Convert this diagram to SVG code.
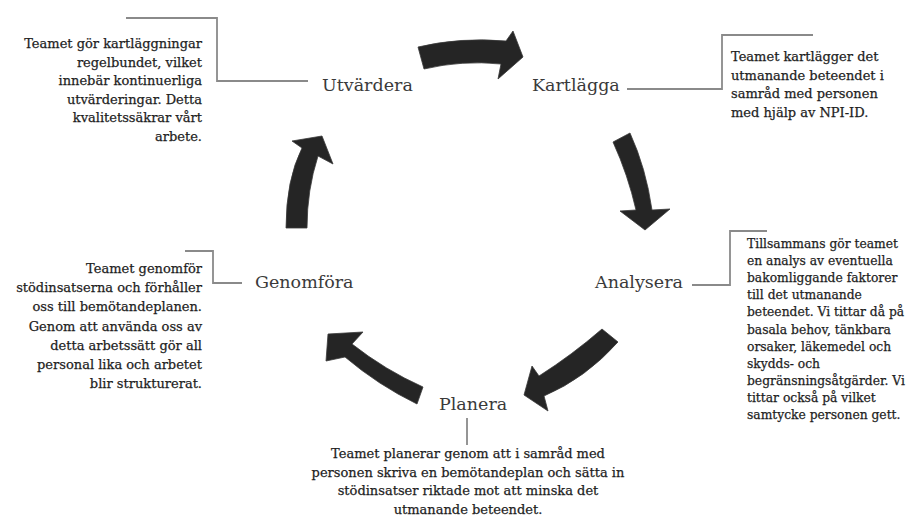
<svg xmlns="http://www.w3.org/2000/svg" width="917" height="524" viewBox="0 0 917 524">
<style>
.lbl{font-family:"DejaVu Serif","Liberation Serif",serif;font-size:17.5px;fill:#3a3a3a}
.txt{font-family:"DejaVu Serif","Liberation Serif",serif;font-size:13px;fill:#1e1e1e;stroke:#1e1e1e;stroke-width:0.25}
.sm{font-size:12.3px}
.r{text-anchor:end}
.c{text-anchor:middle}
.lead{fill:none;stroke:#8a8a8a;stroke-width:1.8}
.arr{fill:#252525;stroke:#3a3a3a;stroke-width:0.8;stroke-linejoin:round}
</style>
<rect width="917" height="524" fill="#ffffff"/>
<g id="connectors">
  <path class="lead" d="M126,18 H217 V81 H308"/>
  <path class="lead" d="M627,89 H722 V35 H813"/>
  <path class="lead" d="M692,285 H730 V231 H767"/>
  <path class="lead" d="M185,251 H213 V283 H242"/>
  <path class="lead" d="M467,418 V445"/>
  <path class="arr" d="M418,47 Q460,37 506,41 L513,31 L523,57 L498,79 L501,64 Q462,60 424,69 Z"/>
  <path class="arr" d="M613,142 Q628,175 636,210 L620,211 L645,230 L670,209 L652,210 Q646,168 630,133 Z"/>
  <path class="arr" d="M602,329 Q572,355 539,376 L532,366 L524,395 L548,411 L544,396 Q586,378 618,342 Z"/>
  <path class="arr" d="M423,387 Q385,370 352,344 L363,332 L328,334 L326,361 L345,357 Q378,385 417,404 Z"/>
  <path class="arr" d="M286,228 Q286,180 302,148 L292,141 L322,136 L333,164 L318,156 Q307,190 307,228 Z"/>
</g>
<g id="utvardera">
  <text class="lbl" x="322" y="91">Utvärdera</text>
  <text class="txt r" x="202" y="48">Teamet gör kartläggningar</text>
  <text class="txt r" x="202" y="66.5">regelbundet, vilket</text>
  <text class="txt r" x="202" y="85">innebär kontinuerliga</text>
  <text class="txt r" x="202" y="103.5">utvärderingar. Detta</text>
  <text class="txt r" x="202" y="122">kvalitetssäkrar vårt</text>
  <text class="txt r" x="202" y="140.5">arbete.</text>
</g>
<g id="kartlagga">
  <text class="lbl" x="532" y="91">Kartlägga</text>
  <text class="txt" x="731" y="61">Teamet kartlägger det</text>
  <text class="txt" x="731" y="79.5">utmanande beteendet i</text>
  <text class="txt" x="731" y="98">samråd med personen</text>
  <text class="txt" x="731" y="116.5">med hjälp av NPI-ID.</text>
</g>
<g id="analysera">
  <text class="lbl" x="595" y="288">Analysera</text>
  <text class="txt sm" x="747" y="248">Tillsammans gör teamet</text>
  <text class="txt sm" x="747" y="265.1">en analys av eventuella</text>
  <text class="txt sm" x="747" y="282.2">bakomliggande faktorer</text>
  <text class="txt sm" x="747" y="299.3">till det utmanande</text>
  <text class="txt sm" x="747" y="316.4">beteendet. Vi tittar då på</text>
  <text class="txt sm" x="747" y="333.5">basala behov, tänkbara</text>
  <text class="txt sm" x="747" y="350.6">orsaker, läkemedel och</text>
  <text class="txt sm" x="747" y="367.7">skydds- och</text>
  <text class="txt sm" x="747" y="384.8">begränsningsåtgärder. Vi</text>
  <text class="txt sm" x="747" y="401.9">tittar också på vilket</text>
  <text class="txt sm" x="747" y="419">samtycke personen gett.</text>
</g>
<g id="planera">
  <text class="lbl" x="439" y="410">Planera</text>
  <text class="txt c" x="468" y="458">Teamet planerar genom att i samråd med</text>
  <text class="txt c" x="468" y="476.5">personen skriva en bemötandeplan och sätta in</text>
  <text class="txt c" x="468" y="495">stödinsatser riktade mot att minska det</text>
  <text class="txt c" x="468" y="513.5">utmanande beteendet.</text>
</g>
<g id="genomfora">
  <text class="lbl" x="255" y="288">Genomföra</text>
  <text class="txt r" x="202" y="273">Teamet genomför</text>
  <text class="txt r" x="202" y="292.2">stödinsatserna och förhåller</text>
  <text class="txt r" x="202" y="311.4">oss till bemötandeplanen.</text>
  <text class="txt r" x="202" y="330.6">Genom att använda oss av</text>
  <text class="txt r" x="202" y="349.8">detta arbetssätt gör all</text>
  <text class="txt r" x="202" y="369">personal lika och arbetet</text>
  <text class="txt r" x="202" y="388.2">blir strukturerat.</text>
</g>
</svg>
